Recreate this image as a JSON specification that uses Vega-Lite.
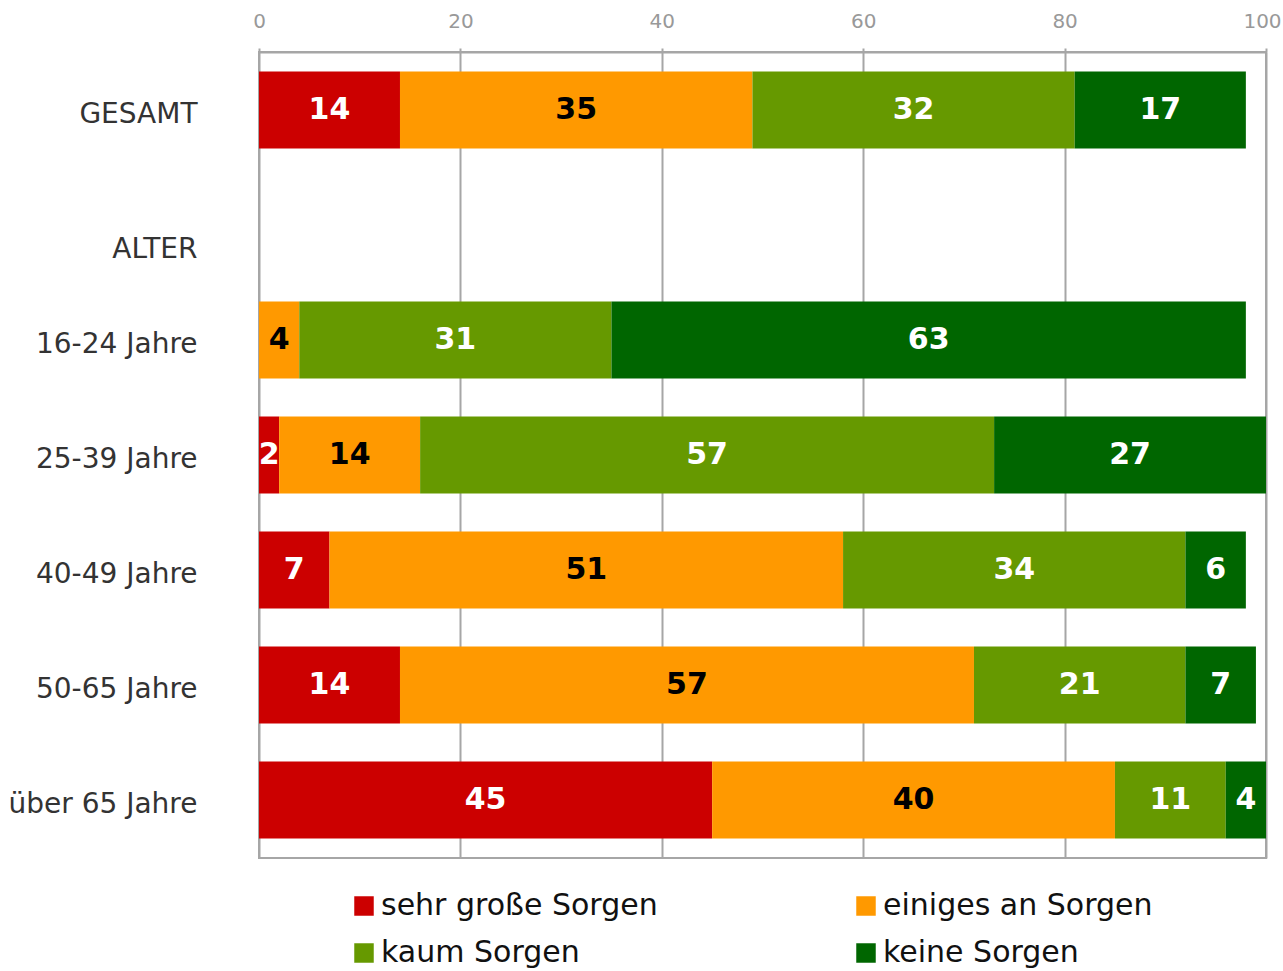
{
  "$schema": "https://vega.github.io/schema/vega-lite/v6.json",
  "width": 1007,
  "height": 806,
  "autosize": "none",
  "padding": {"left": 259, "top": 52, "right": 17, "bottom": 113},
  "background": "white",
  "config": {
    "font": "DejaVu Sans",
    "view": {"stroke": "#a6a6a6", "strokeWidth": 2}
  },
  "data": {
    "values": [
      {"group": "GESAMT", "cat": "sehr große Sorgen", "k": 1, "v": 14},
      {"group": "GESAMT", "cat": "einiges an Sorgen", "k": 2, "v": 35},
      {"group": "GESAMT", "cat": "kaum Sorgen", "k": 3, "v": 32},
      {"group": "GESAMT", "cat": "keine Sorgen", "k": 4, "v": 17},
      {"group": "16-24 Jahre", "cat": "einiges an Sorgen", "k": 2, "v": 4},
      {"group": "16-24 Jahre", "cat": "kaum Sorgen", "k": 3, "v": 31},
      {"group": "16-24 Jahre", "cat": "keine Sorgen", "k": 4, "v": 63},
      {"group": "25-39 Jahre", "cat": "sehr große Sorgen", "k": 1, "v": 2},
      {"group": "25-39 Jahre", "cat": "einiges an Sorgen", "k": 2, "v": 14},
      {"group": "25-39 Jahre", "cat": "kaum Sorgen", "k": 3, "v": 57},
      {"group": "25-39 Jahre", "cat": "keine Sorgen", "k": 4, "v": 27},
      {"group": "40-49 Jahre", "cat": "sehr große Sorgen", "k": 1, "v": 7},
      {"group": "40-49 Jahre", "cat": "einiges an Sorgen", "k": 2, "v": 51},
      {"group": "40-49 Jahre", "cat": "kaum Sorgen", "k": 3, "v": 34},
      {"group": "40-49 Jahre", "cat": "keine Sorgen", "k": 4, "v": 6},
      {"group": "50-65 Jahre", "cat": "sehr große Sorgen", "k": 1, "v": 14},
      {"group": "50-65 Jahre", "cat": "einiges an Sorgen", "k": 2, "v": 57},
      {"group": "50-65 Jahre", "cat": "kaum Sorgen", "k": 3, "v": 21},
      {"group": "50-65 Jahre", "cat": "keine Sorgen", "k": 4, "v": 7},
      {"group": "über 65 Jahre", "cat": "sehr große Sorgen", "k": 1, "v": 45},
      {"group": "über 65 Jahre", "cat": "einiges an Sorgen", "k": 2, "v": 40},
      {"group": "über 65 Jahre", "cat": "kaum Sorgen", "k": 3, "v": 11},
      {"group": "über 65 Jahre", "cat": "keine Sorgen", "k": 4, "v": 4}
    ]
  },
  "encoding": {
    "y": {
      "field": "group",
      "type": "nominal",
      "scale": {
        "domain": ["GESAMT", "ALTER", "16-24 Jahre", "25-39 Jahre", "40-49 Jahre", "50-65 Jahre", "über 65 Jahre"],
        "paddingInner": 0.33,
        "paddingOuter": 0.17
      },
      "axis": {
        "title": null,
        "domain": false,
        "ticks": false,
        "grid": false,
        "labelFontSize": 28,
        "labelColor": "#333333",
        "labelPadding": 62,
        "labelLimit": 400,
        "labelOffset": {"condition": {"test": "datum.value === 'ALTER'", "value": 25}, "value": 5}
      }
    },
    "x": {
      "field": "v",
      "type": "quantitative",
      "stack": "zero",
      "scale": {"domain": [0, 100], "nice": false},
      "axis": {
        "orient": "top",
        "title": null,
        "values": [0, 20, 40, 60, 80, 100],
        "labelColor": "#999999",
        "labelFontSize": 20,
        "labelFlush": false,
        "labelPadding": 17,
        "labelOffset": {"condition": {"test": "datum.value === 100", "value": -4}, "value": 0},
        "tickColor": "#a6a6a6",
        "tickWidth": 2,
        "tickSize": 4,
        "domainColor": "#a6a6a6",
        "domainWidth": 2,
        "gridColor": "#a6a6a6",
        "gridWidth": 2
      }
    },
    "order": {"field": "k", "type": "quantitative"}
  },
  "layer": [
    {
      "mark": {"type": "bar"},
      "encoding": {
        "color": {
          "field": "cat",
          "type": "nominal",
          "scale": {
            "domain": ["sehr große Sorgen", "einiges an Sorgen", "kaum Sorgen", "keine Sorgen"],
            "range": ["#cc0000", "#ff9900", "#669900", "#006600"]
          },
          "legend": {
            "title": null,
            "orient": "none",
            "legendX": 90,
            "legendY": 839,
            "columns": 2,
            "columnPadding": 193,
            "rowPadding": 17,
            "values": ["sehr große Sorgen", "kaum Sorgen", "einiges an Sorgen", "keine Sorgen"],
            "symbolType": "square",
            "symbolSize": 380,
            "symbolStrokeWidth": 0,
            "labelFontSize": 30,
            "labelColor": "#111111",
            "labelOffset": 2,
            "labelLimit": 400
          }
        }
      }
    },
    {
      "mark": {"type": "text", "fontSize": 30, "fontWeight": "bold", "baseline": "middle", "align": "center"},
      "encoding": {
        "x": {"field": "v", "type": "quantitative", "stack": "zero", "bandPosition": 0.5},
        "text": {"field": "v", "type": "quantitative"},
        "color": {"condition": {"test": "datum.cat === 'einiges an Sorgen'", "value": "#000000"}, "value": "#ffffff"}
      }
    }
  ]
}
